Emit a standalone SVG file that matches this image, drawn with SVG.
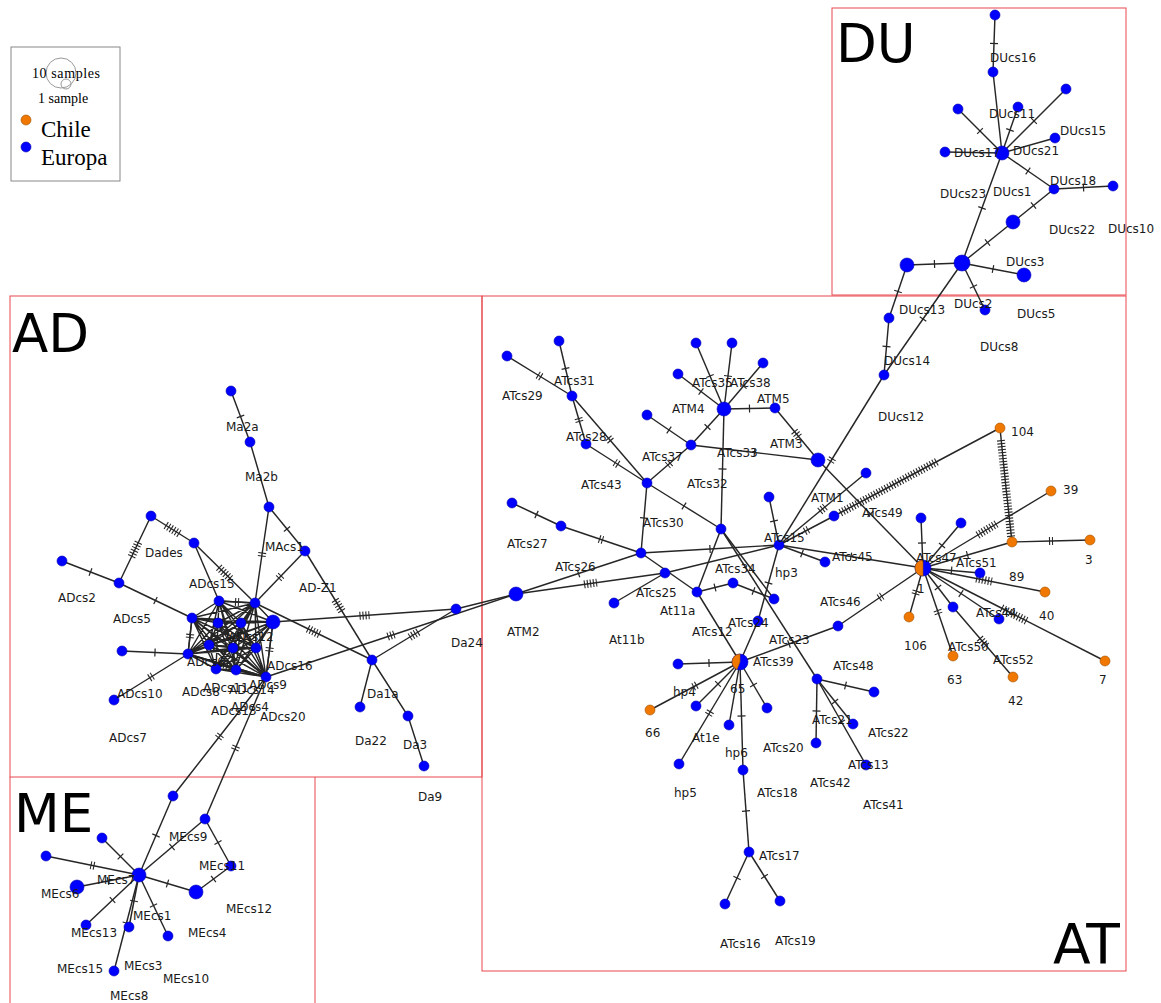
<svg xmlns="http://www.w3.org/2000/svg" width="1161" height="1003" viewBox="0 0 1161 1003">
<style>
.e{fill:none;stroke:#262626;stroke-width:1.45}
.tk{fill:none;stroke:#262626;stroke-width:8;stroke-dasharray:1.1 1.9}
.b{fill:#0000ff;stroke:#0000b0;stroke-width:.6}
.o{fill:#f07800;stroke:#a05000;stroke-width:.6}
.l{font-family:"DejaVu Sans",Verdana,sans-serif;font-size:12px;fill:#1a1a1a}
.big{font-family:"DejaVu Sans",Verdana,sans-serif;font-size:53px;fill:#000}
.box{fill:none;stroke:#e8474c;stroke-width:1}
.lg{font-family:"Liberation Serif","Times New Roman",serif;fill:#000}
</style>
<defs>
<marker id="m1" orient="auto" markerUnits="userSpaceOnUse" markerWidth="10" markerHeight="10" overflow="visible"><path d="M-0.6 0H0.6" style="fill:none;stroke-width:8;stroke:#262626"/></marker>
<marker id="m2" orient="auto" markerUnits="userSpaceOnUse" markerWidth="10" markerHeight="10" overflow="visible"><path class="tk" d="M-2 0H2"/></marker>
<marker id="m3" orient="auto" markerUnits="userSpaceOnUse" markerWidth="10" markerHeight="10" overflow="visible"><path class="tk" d="M-3.5 0H3.5"/></marker>
<marker id="m4" orient="auto" markerUnits="userSpaceOnUse" markerWidth="10" markerHeight="10" overflow="visible"><path class="tk" d="M-5 0H5"/></marker>
<marker id="m5" orient="auto" markerUnits="userSpaceOnUse" markerWidth="10" markerHeight="10" overflow="visible"><path class="tk" d="M-6.5 0H6.5"/></marker>
<marker id="m6" orient="auto" markerUnits="userSpaceOnUse" markerWidth="10" markerHeight="10" overflow="visible"><path class="tk" d="M-8 0H8"/></marker>
<marker id="m8" orient="auto" markerUnits="userSpaceOnUse" markerWidth="10" markerHeight="10" overflow="visible"><path class="tk" d="M-11 0H11"/></marker>
<marker id="m10" orient="auto" markerUnits="userSpaceOnUse" markerWidth="10" markerHeight="10" overflow="visible"><path class="tk" d="M-14 0H14"/></marker>
<marker id="m33" orient="auto" markerUnits="userSpaceOnUse" markerWidth="10" markerHeight="10" overflow="visible"><path class="tk" d="M-49 0H49"/></marker>
<marker id="m36" orient="auto" markerUnits="userSpaceOnUse" markerWidth="10" markerHeight="10" overflow="visible"><path class="tk" d="M-55 0H55"/></marker>
</defs>
<rect width="1161" height="1003" fill="#fff"/>
<g id="regions">
<rect class="box" x="832" y="8" width="294" height="287"/>
<rect class="box" x="482" y="296" width="644" height="675"/>
<rect class="box" x="10" y="296" width="472" height="481"/>
<path class="box" d="M10 777V1003M315 777V1003"/>
<text class="big" x="836" y="62">DU</text>
<text class="big" x="12" y="352">AD</text>
<text class="big" x="14" y="832">ME</text>
<text class="big" x="1053" y="963" style="font-size:55px">AT</text>
</g>
<g id="legend">
<rect x="11" y="47" width="109" height="134" fill="#fff" stroke="#888" stroke-width="1"/>
<circle cx="61" cy="73" r="15" fill="none" stroke="#999"/>
<circle cx="66" cy="84" r="5" fill="none" stroke="#999"/>
<text class="lg" x="32" y="78" font-size="14" textLength="68">10 samples</text>
<text class="lg" x="38" y="103" font-size="14">1 sample</text>
<circle class="o" cx="26" cy="120" r="5"/>
<text class="lg" x="41" y="137" font-size="23">Chile</text>
<circle class="b" cx="26" cy="147" r="5"/>
<text class="lg" x="41" y="165" font-size="23">Europa</text>
</g>
<g id="connectors">
<path class="e" d="M995 15L994 43.5L993 72" marker-mid="url(#m1)"/>
<path class="e" d="M993 72L1002 153"/>
<path class="e" d="M1002 153L980 131L958 109" marker-mid="url(#m1)"/>
<path class="e" d="M1002 153L1010 130L1018 107" marker-mid="url(#m1)"/>
<path class="e" d="M1002 153L1034 121L1066 89" marker-mid="url(#m1)"/>
<path class="e" d="M1002 153L1055 138"/>
<path class="e" d="M1002 153L945 152"/>
<path class="e" d="M1002 153L1028 171L1054 189" marker-mid="url(#m1)"/>
<path class="e" d="M1054 189L1083.5 187.5L1113 186" marker-mid="url(#m1)"/>
<path class="e" d="M1002 153L982 208L962 263" marker-mid="url(#m1)"/>
<path class="e" d="M962 263L987.5 242.5L1013 222" marker-mid="url(#m1)"/>
<path class="e" d="M1013 222L1033.5 205.5L1054 189" marker-mid="url(#m1)"/>
<path class="e" d="M962 263L934.5 264L907 265" marker-mid="url(#m1)"/>
<path class="e" d="M962 263L993 269L1024 275" marker-mid="url(#m1)"/>
<path class="e" d="M962 263L973.5 286.5L985 310" marker-mid="url(#m1)"/>
<path class="e" d="M962 263L923 319L884 375" marker-mid="url(#m1)"/>
<path class="e" d="M907 265L898 291.5L889 318" marker-mid="url(#m1)"/>
<path class="e" d="M889 318L886.5 346.5L884 375" marker-mid="url(#m1)"/>
<path class="e" d="M884 375L831.5 460L779 545" marker-mid="url(#m2)"/>
<path class="e" d="M779 545L774 521L769 497" marker-mid="url(#m1)"/>
<path class="e" d="M779 545L822.5 509L866 473" marker-mid="url(#m3)"/>
<path class="e" d="M779 545L806.5 530.5L834 516" marker-mid="url(#m2)"/>
<path class="e" d="M834 516L889 487L1000 428" marker-mid="url(#m36)"/>
<path class="e" d="M779 545L802 553.5L825 562" marker-mid="url(#m1)"/>
<path class="e" d="M779 545L851 556.5L923 568" marker-mid="url(#m1)"/>
<path class="e" d="M779 545L710 549L641 553" marker-mid="url(#m1)"/>
<path class="e" d="M779 545L665 573"/>
<path class="e" d="M779 545L768.5 583L758 621" marker-mid="url(#m1)"/>
<path class="e" d="M758 621L740 662"/>
<path class="e" d="M818 460L870.5 514L923 568" marker-mid="url(#m1)"/>
<path class="e" d="M775 408L796.5 434L818 460" marker-mid="url(#m3)"/>
<path class="e" d="M724 409L749.5 408.5L775 408" marker-mid="url(#m1)"/>
<path class="e" d="M724 409L710 376L696 343" marker-mid="url(#m1)"/>
<path class="e" d="M724 409L728 376L732 343" marker-mid="url(#m1)"/>
<path class="e" d="M724 409L743.5 386L763 363" marker-mid="url(#m1)"/>
<path class="e" d="M724 409L701 391.5L678 374" marker-mid="url(#m1)"/>
<path class="e" d="M724 409L707.5 427L691 445" marker-mid="url(#m1)"/>
<path class="e" d="M691 445L669 430L647 415" marker-mid="url(#m1)"/>
<path class="e" d="M691 445L754.5 452.5L818 460" marker-mid="url(#m1)"/>
<path class="e" d="M691 445L669 464L647 483" marker-mid="url(#m2)"/>
<path class="e" d="M724 409L722.5 469L721 529" marker-mid="url(#m1)"/>
<path class="e" d="M647 483L684 506L721 529" marker-mid="url(#m1)"/>
<path class="e" d="M647 483L644 518L641 553" marker-mid="url(#m1)"/>
<path class="e" d="M647 483L609.5 439.5L572 396" marker-mid="url(#m2)"/>
<path class="e" d="M647 483L616.5 463.5L586 444" marker-mid="url(#m2)"/>
<path class="e" d="M572 396L579 420L586 444" marker-mid="url(#m2)"/>
<path class="e" d="M572 396L565.5 368.5L559 341" marker-mid="url(#m1)"/>
<path class="e" d="M572 396L539.5 376L507 356" marker-mid="url(#m2)"/>
<path class="e" d="M512 503L536.5 514.5L561 526" marker-mid="url(#m1)"/>
<path class="e" d="M561 526L601 539.5L641 553" marker-mid="url(#m2)"/>
<path class="e" d="M516 594L578.5 573.5L641 553" marker-mid="url(#m1)"/>
<path class="e" d="M516 594L590.5 583.5L665 573" marker-mid="url(#m5)"/>
<path class="e" d="M665 573L614 603"/>
<path class="e" d="M641 553L697 592"/>
<path class="e" d="M697 592L721 529"/>
<path class="e" d="M697 592L740 662"/>
<path class="e" d="M697 592L715 587.5L733 583" marker-mid="url(#m1)"/>
<path class="e" d="M733 583L753.5 591L774 599" marker-mid="url(#m1)"/>
<path class="e" d="M721 529L774 599"/>
<path class="e" d="M721 529L817 679"/>
<path class="e" d="M740 662L709 663L678 664" marker-mid="url(#m1)"/>
<path class="e" d="M740 662L695 686L650 710" marker-mid="url(#m2)"/>
<path class="e" d="M740 662L718 684L696 706" marker-mid="url(#m1)"/>
<path class="e" d="M740 662L709.5 713L679 764" marker-mid="url(#m2)"/>
<path class="e" d="M740 662L729 725"/>
<path class="e" d="M740 662L741.5 716L743 770" marker-mid="url(#m1)"/>
<path class="e" d="M740 662L753.5 685L767 708" marker-mid="url(#m1)"/>
<path class="e" d="M740 662L789 644L838 626" marker-mid="url(#m1)"/>
<path class="e" d="M838 626L880.5 597L923 568" marker-mid="url(#m2)"/>
<path class="e" d="M743 770L746 811L749 852" marker-mid="url(#m1)"/>
<path class="e" d="M749 852L737 878L725 904" marker-mid="url(#m1)"/>
<path class="e" d="M749 852L764.5 876.5L780 901" marker-mid="url(#m1)"/>
<path class="e" d="M817 679L845.5 685.5L874 692" marker-mid="url(#m1)"/>
<path class="e" d="M817 679L816.5 711L816 743" marker-mid="url(#m1)"/>
<path class="e" d="M817 679L835 701.5L853 724" marker-mid="url(#m1)"/>
<path class="e" d="M817 679L841.5 722L866 765" marker-mid="url(#m1)"/>
<path class="e" d="M923 568L922 543L921 518" marker-mid="url(#m1)"/>
<path class="e" d="M923 568L942 545.5L961 523" marker-mid="url(#m1)"/>
<path class="e" d="M923 568L987 529.5L1051 491" marker-mid="url(#m8)"/>
<path class="e" d="M923 568L967.5 555L1012 542" marker-mid="url(#m1)"/>
<path class="e" d="M1012 542L1051 541L1090 540" marker-mid="url(#m2)"/>
<path class="e" d="M1012 542L1006 488L1000 428" marker-mid="url(#m33)"/>
<path class="e" d="M923 568L951.5 570.5L980 573" marker-mid="url(#m1)"/>
<path class="e" d="M923 568L984 580L1045 592" marker-mid="url(#m6)"/>
<path class="e" d="M923 568L938 587.5L953 607" marker-mid="url(#m1)"/>
<path class="e" d="M953 607L983 642L1013 677" marker-mid="url(#m4)"/>
<path class="e" d="M923 568L961 593.5L999 619" marker-mid="url(#m1)"/>
<path class="e" d="M923 568L1014 614.5L1105 661" marker-mid="url(#m10)"/>
<path class="e" d="M923 568L938 612L953 656" marker-mid="url(#m2)"/>
<path class="e" d="M923 568L916 592.5L909 617" marker-mid="url(#m2)"/>
<path class="e" d="M231 391L240.5 416.5L250 442" marker-mid="url(#m1)"/>
<path class="e" d="M250 442L269 507"/>
<path class="e" d="M269 507L262 554.5L255 603" marker-mid="url(#m2)"/>
<path class="e" d="M269 507L287 529L305 551" marker-mid="url(#m1)"/>
<path class="e" d="M305 551L280 577L255 603" marker-mid="url(#m2)"/>
<path class="e" d="M305 551L338.5 605.5L372 660" marker-mid="url(#m5)"/>
<path class="e" d="M372 660L360 707"/>
<path class="e" d="M372 660L408 716L424 766"/>
<path class="e" d="M255 603L313.5 631.5L372 660" marker-mid="url(#m5)"/>
<path class="e" d="M273 622L364.5 615.5L456 609" marker-mid="url(#m4)"/>
<path class="e" d="M456 609L516 594"/>
<path class="e" d="M456 609L414 634.5L372 660" marker-mid="url(#m4)"/>
<path class="e" d="M266 677L391 635.5L516 594" marker-mid="url(#m3)"/>
<path class="e" d="M62 561L90.5 572L119 583" marker-mid="url(#m1)"/>
<path class="e" d="M119 583L135 549.5L151 516" marker-mid="url(#m6)"/>
<path class="e" d="M151 516L172.5 529.5L194 543" marker-mid="url(#m6)"/>
<path class="e" d="M194 543L224.5 573L255 603" marker-mid="url(#m6)"/>
<path class="e" d="M194 543L219 601"/>
<path class="e" d="M119 583L155.5 600.5L192 618" marker-mid="url(#m1)"/>
<path class="e" d="M122 651L155 652.5L188 654" marker-mid="url(#m1)"/>
<path class="e" d="M114 700L151 677L188 654" marker-mid="url(#m2)"/>
<path class="e" d="M266 677L219.5 736.5L173 796" marker-mid="url(#m2)"/>
<path class="e" d="M266 677L235.5 748L205 819" marker-mid="url(#m2)"/>
<path class="e" d="M219 601L255 603M219 601L192 618M219 601L218 623M219 601L241 623M219 601L273 622M219 601L209 645M219 601L233 648M219 601L256 648M219 601L188 654M219 601L216 669M219 601L236 670M219 601L266 677
M255 603L192 618M255 603L218 623M255 603L241 623M255 603L273 622M255 603L209 645M255 603L233 648M255 603L256 648M255 603L188 654M255 603L216 669M255 603L236 670M255 603L266 677
M192 618L218 623M192 618L241 623M192 618L273 622M192 618L209 645M192 618L233 648M192 618L256 648M192 618L188 654M192 618L216 669M192 618L236 670M192 618L266 677
M218 623L241 623M218 623L273 622M218 623L209 645M218 623L233 648M218 623L256 648M218 623L188 654M218 623L216 669M218 623L236 670M218 623L266 677
M241 623L273 622M241 623L209 645M241 623L233 648M241 623L256 648M241 623L188 654M241 623L216 669M241 623L236 670M241 623L266 677
M273 622L209 645M273 622L233 648M273 622L256 648M273 622L188 654M273 622L216 669M273 622L236 670M273 622L266 677
M209 645L233 648M209 645L256 648M209 645L188 654M209 645L216 669M209 645L236 670M209 645L266 677
M233 648L256 648M233 648L188 654M233 648L216 669M233 648L236 670M233 648L266 677
M256 648L188 654M256 648L216 669M256 648L236 670M256 648L266 677
M188 654L216 669M188 654L236 670M188 654L266 677
M216 669L236 670M216 669L266 677M236 670L266 677"/>
<path class="e" d="M219 601L237 602L255 603" marker-mid="url(#m2)"/>
<path class="e" d="M192 618L190 636L188 654" marker-mid="url(#m2)"/>
<path class="e" d="M273 622L269.5 649.5L266 677" marker-mid="url(#m2)"/>
<path class="e" d="M188 654L227 665.5L266 677" marker-mid="url(#m3)"/>
<path class="e" d="M139 875L156 835.5L173 796" marker-mid="url(#m1)"/>
<path class="e" d="M139 875L172 847L205 819" marker-mid="url(#m1)"/>
<path class="e" d="M205 819L218 842.5L231 866" marker-mid="url(#m1)"/>
<path class="e" d="M231 866L213.5 879L196 892" marker-mid="url(#m1)"/>
<path class="e" d="M196 892L167.5 883.5L139 875" marker-mid="url(#m1)"/>
<path class="e" d="M139 875L120.5 856.5L102 838" marker-mid="url(#m1)"/>
<path class="e" d="M139 875L92.5 865.5L46 856" marker-mid="url(#m2)"/>
<path class="e" d="M139 875L108 881L77 887" marker-mid="url(#m1)"/>
<path class="e" d="M139 875L112.5 900L86 925" marker-mid="url(#m1)"/>
<path class="e" d="M139 875L134 901L129 927" marker-mid="url(#m1)"/>
<path class="e" d="M139 875L126.5 923L114 971" marker-mid="url(#m1)"/>
<path class="e" d="M139 875L153.5 905.5L168 936" marker-mid="url(#m1)"/>
</g>
<g id="nodes">
<g id="du16top"><circle class="b" cx="995" cy="15" r="5"/></g>
<g id="du16"><circle class="b" cx="993" cy="72" r="5"/></g>
<g id="du-a"><circle class="b" cx="1066" cy="89" r="5"/></g>
<g id="du-b"><circle class="b" cx="958" cy="109" r="5"/></g>
<g id="du11"><circle class="b" cx="1018" cy="107" r="5"/></g>
<g id="du15"><circle class="b" cx="1055" cy="138" r="5"/></g>
<g id="du17"><circle class="b" cx="945" cy="152" r="5"/></g>
<g id="du-hub"><circle class="b" cx="1002" cy="153" r="7"/></g>
<g id="du18"><circle class="b" cx="1054" cy="189" r="5"/></g>
<g id="du10"><circle class="b" cx="1113" cy="186" r="5"/></g>
<g id="du22"><circle class="b" cx="1013" cy="222" r="7"/></g>
<g id="du-hub2"><circle class="b" cx="962" cy="263" r="8"/></g>
<g id="du23"><circle class="b" cx="907" cy="265" r="7"/></g>
<g id="du3"><circle class="b" cx="1024" cy="275" r="7"/></g>
<g id="du13"><circle class="b" cx="889" cy="318" r="5"/></g>
<g id="du2"><circle class="b" cx="985" cy="310" r="5"/></g>
<g id="du14"><circle class="b" cx="884" cy="375" r="5"/></g>
<g id="at-a"><circle class="b" cx="559" cy="341" r="5"/></g>
<g id="at29"><circle class="b" cx="507" cy="356" r="5"/></g>
<g id="at31"><circle class="b" cx="572" cy="396" r="5"/></g>
<g id="at28"><circle class="b" cx="586" cy="444" r="5"/></g>
<g id="at43"><circle class="b" cx="647" cy="483" r="5"/></g>
<g id="at-b"><circle class="b" cx="647" cy="415" r="5"/></g>
<g id="at37"><circle class="b" cx="691" cy="445" r="5"/></g>
<g id="atm4"><circle class="b" cx="724" cy="409" r="7"/></g>
<g id="at-c"><circle class="b" cx="696" cy="343" r="5"/></g>
<g id="at-d"><circle class="b" cx="732" cy="343" r="5"/></g>
<g id="at-e"><circle class="b" cx="763" cy="363" r="5"/></g>
<g id="at-f"><circle class="b" cx="678" cy="374" r="5"/></g>
<g id="atm5"><circle class="b" cx="775" cy="408" r="5"/></g>
<g id="atm3"><circle class="b" cx="818" cy="460" r="7"/></g>
<g id="at32"><circle class="b" cx="721" cy="529" r="5"/></g>
<g id="at27a"><circle class="b" cx="512" cy="503" r="5"/></g>
<g id="at27"><circle class="b" cx="561" cy="526" r="5"/></g>
<g id="at30"><circle class="b" cx="641" cy="553" r="5"/></g>
<g id="atm2"><circle class="b" cx="516" cy="594" r="7"/></g>
<g id="at25"><circle class="b" cx="665" cy="573" r="5"/></g>
<g id="at11b"><circle class="b" cx="614" cy="603" r="5"/></g>
<g id="at11a"><circle class="b" cx="697" cy="592" r="5"/></g>
<g id="at34"><circle class="b" cx="733" cy="583" r="5"/></g>
<g id="at-g"><circle class="b" cx="774" cy="599" r="5"/></g>
<g id="at15"><circle class="b" cx="779" cy="545" r="5"/></g>
<g id="at-h"><circle class="b" cx="769" cy="497" r="5"/></g>
<g id="at-i"><circle class="b" cx="866" cy="473" r="5"/></g>
<g id="atm1"><circle class="b" cx="834" cy="516" r="5"/></g>
<g id="at45"><circle class="b" cx="825" cy="562" r="5"/></g>
<g id="at24"><circle class="b" cx="758" cy="621" r="5"/></g>
<g id="at39"><circle class="b" cx="740" cy="662" r="8"/><path class="o" d="M740 654A8 8 0 0 0 737 669.4L740 662Z"/></g>
<g id="at-j"><circle class="b" cx="678" cy="664" r="5"/></g>
<g id="n66"><circle class="o" cx="650" cy="710" r="5"/></g>
<g id="at-k"><circle class="b" cx="696" cy="706" r="5"/></g>
<g id="at1e"><circle class="b" cx="679" cy="764" r="5"/></g>
<g id="at-l"><circle class="b" cx="729" cy="725" r="5"/></g>
<g id="hp6"><circle class="b" cx="743" cy="770" r="5"/></g>
<g id="at-m"><circle class="b" cx="767" cy="708" r="5"/></g>
<g id="at46"><circle class="b" cx="838" cy="626" r="5"/></g>
<g id="at17"><circle class="b" cx="749" cy="852" r="5"/></g>
<g id="at16"><circle class="b" cx="725" cy="904" r="5"/></g>
<g id="at19"><circle class="b" cx="780" cy="901" r="5"/></g>
<g id="at48"><circle class="b" cx="817" cy="679" r="5"/></g>
<g id="at-n"><circle class="b" cx="874" cy="692" r="5"/></g>
<g id="at20"><circle class="b" cx="816" cy="743" r="5"/></g>
<g id="at21"><circle class="b" cx="853" cy="724" r="5"/></g>
<g id="at13"><circle class="b" cx="866" cy="765" r="5"/></g>
<g id="at47"><circle class="b" cx="923" cy="568" r="8"/><path class="o" d="M923 560A8 8 0 0 0 923 576Z"/></g>
<g id="at-o"><circle class="b" cx="921" cy="518" r="5"/></g>
<g id="at-p"><circle class="b" cx="961" cy="523" r="5"/></g>
<g id="n39"><circle class="o" cx="1051" cy="491" r="5"/></g>
<g id="n89"><circle class="o" cx="1012" cy="542" r="5"/></g>
<g id="n3"><circle class="o" cx="1090" cy="540" r="5"/></g>
<g id="n104"><circle class="o" cx="1000" cy="428" r="5"/></g>
<g id="at51"><circle class="b" cx="980" cy="573" r="5"/></g>
<g id="n40"><circle class="o" cx="1045" cy="592" r="5"/></g>
<g id="at-q"><circle class="b" cx="953" cy="607" r="5"/></g>
<g id="at44"><circle class="b" cx="999" cy="619" r="5"/></g>
<g id="n42"><circle class="o" cx="1013" cy="677" r="5"/></g>
<g id="n7"><circle class="o" cx="1105" cy="661" r="5"/></g>
<g id="n63"><circle class="o" cx="953" cy="656" r="5"/></g>
<g id="n106"><circle class="o" cx="909" cy="617" r="5"/></g>
<g id="ma2top"><circle class="b" cx="231" cy="391" r="5"/></g>
<g id="ma2a"><circle class="b" cx="250" cy="442" r="5"/></g>
<g id="ma2b"><circle class="b" cx="269" cy="507" r="5"/></g>
<g id="macs1"><circle class="b" cx="305" cy="551" r="5"/></g>
<g id="dades"><circle class="b" cx="151" cy="516" r="5"/></g>
<g id="ad-a"><circle class="b" cx="194" cy="543" r="5"/></g>
<g id="ad2"><circle class="b" cx="62" cy="561" r="5"/></g>
<g id="ad5"><circle class="b" cx="119" cy="583" r="5"/></g>
<g id="c1"><circle class="b" cx="219" cy="601" r="5"/></g>
<g id="c2"><circle class="b" cx="255" cy="603" r="5"/></g>
<g id="c3"><circle class="b" cx="192" cy="618" r="5"/></g>
<g id="c4"><circle class="b" cx="218" cy="623" r="5"/></g>
<g id="c5"><circle class="b" cx="241" cy="623" r="5"/></g>
<g id="c6"><circle class="b" cx="273" cy="622" r="7"/></g>
<g id="c7"><circle class="b" cx="209" cy="645" r="5"/></g>
<g id="c8"><circle class="b" cx="233" cy="648" r="5"/></g>
<g id="c9"><circle class="b" cx="256" cy="648" r="5"/></g>
<g id="c10"><circle class="b" cx="188" cy="654" r="5"/></g>
<g id="c11"><circle class="b" cx="216" cy="669" r="5"/></g>
<g id="c12"><circle class="b" cx="236" cy="670" r="5"/></g>
<g id="c13"><circle class="b" cx="266" cy="677" r="5"/></g>
<g id="ad-b"><circle class="b" cx="122" cy="651" r="5"/></g>
<g id="ad10"><circle class="b" cx="114" cy="700" r="5"/></g>
<g id="da24"><circle class="b" cx="456" cy="609" r="5"/></g>
<g id="da1a"><circle class="b" cx="372" cy="660" r="5"/></g>
<g id="da22"><circle class="b" cx="360" cy="707" r="5"/></g>
<g id="da3"><circle class="b" cx="408" cy="716" r="5"/></g>
<g id="da9"><circle class="b" cx="424" cy="766" r="5"/></g>
<g id="me-a"><circle class="b" cx="173" cy="796" r="5"/></g>
<g id="me9"><circle class="b" cx="205" cy="819" r="5"/></g>
<g id="me-b"><circle class="b" cx="102" cy="838" r="5"/></g>
<g id="me-c"><circle class="b" cx="46" cy="856" r="5"/></g>
<g id="me7"><circle class="b" cx="139" cy="875" r="7"/></g>
<g id="me6"><circle class="b" cx="77" cy="887" r="7"/></g>
<g id="me11"><circle class="b" cx="231" cy="866" r="5"/></g>
<g id="me12"><circle class="b" cx="196" cy="892" r="7"/></g>
<g id="me13"><circle class="b" cx="86" cy="925" r="5"/></g>
<g id="me1"><circle class="b" cx="129" cy="927" r="5"/></g>
<g id="me4"><circle class="b" cx="168" cy="936" r="5"/></g>
<g id="me15"><circle class="b" cx="114" cy="971" r="5"/></g>
</g>
<g id="labels" class="l">
<text x="990" y="62">DUcs16</text>
<text x="989" y="118">DUcs11</text>
<text x="1060" y="135">DUcs15</text>
<text x="954" y="157">DUcs17</text>
<text x="1013" y="155">DUcs21</text>
<text x="1050" y="185">DUcs18</text>
<text x="940" y="198">DUcs23</text>
<text x="993" y="196">DUcs1</text>
<text x="1049" y="234">DUcs22</text>
<text x="1108" y="233">DUcs10</text>
<text x="1006" y="266">DUcs3</text>
<text x="899" y="314">DUcs13</text>
<text x="954" y="308">DUcs2</text>
<text x="1017" y="318">DUcs5</text>
<text x="980" y="351">DUcs8</text>
<text x="884" y="365">DUcs14</text>
<text x="878" y="421">DUcs12</text>
<text x="502" y="400">ATcs29</text>
<text x="554" y="385">ATcs31</text>
<text x="566" y="441">ATcs28</text>
<text x="581" y="489">ATcs43</text>
<text x="642" y="461">ATcs37</text>
<text x="672" y="413">ATM4</text>
<text x="692" y="387">ATcs35</text>
<text x="730" y="387">ATcs38</text>
<text x="757" y="403">ATM5</text>
<text x="770" y="448">ATM3</text>
<text x="717" y="457">ATcs33</text>
<text x="687" y="488">ATcs32</text>
<text x="643" y="527">ATcs30</text>
<text x="507" y="548">ATcs27</text>
<text x="555" y="571">ATcs26</text>
<text x="507" y="636">ATM2</text>
<text x="636" y="597">ATcs25</text>
<text x="660" y="615">At11a</text>
<text x="609" y="644">At11b</text>
<text x="715" y="573">ATcs34</text>
<text x="775" y="577">hp3</text>
<text x="764" y="542">ATcs15</text>
<text x="728" y="627">ATcs24</text>
<text x="692" y="636">ATcs12</text>
<text x="769" y="644">ATcs23</text>
<text x="753" y="666">ATcs39</text>
<text x="673" y="696">hp4</text>
<text x="730" y="693">65</text>
<text x="645" y="737">66</text>
<text x="692" y="742">At1e</text>
<text x="725" y="757">hp6</text>
<text x="763" y="752">ATcs20</text>
<text x="674" y="797">hp5</text>
<text x="757" y="797">ATcs18</text>
<text x="810" y="787">ATcs42</text>
<text x="759" y="860">ATcs17</text>
<text x="720" y="948">ATcs16</text>
<text x="775" y="945">ATcs19</text>
<text x="811" y="502">ATM1</text>
<text x="862" y="517">ATcs49</text>
<text x="832" y="561">ATcs45</text>
<text x="916" y="562">ATcs47</text>
<text x="956" y="567">ATcs51</text>
<text x="1009" y="581">89</text>
<text x="1085" y="564">3</text>
<text x="1063" y="494">39</text>
<text x="1011" y="436">104</text>
<text x="1039" y="620">40</text>
<text x="976" y="617">ATcs44</text>
<text x="917" y="593">1</text>
<text x="904" y="650">106</text>
<text x="948" y="651">ATcs50</text>
<text x="947" y="684">63</text>
<text x="993" y="664">ATcs52</text>
<text x="1008" y="705">42</text>
<text x="1099" y="684">7</text>
<text x="820" y="606">ATcs46</text>
<text x="833" y="670">ATcs48</text>
<text x="812" y="724">ATcs21</text>
<text x="868" y="737">ATcs22</text>
<text x="848" y="769">ATcs13</text>
<text x="863" y="809">ATcs41</text>
<text x="226" y="431">Ma2a</text>
<text x="245" y="481">Ma2b</text>
<text x="265" y="551">MAcs1</text>
<text x="145" y="557">Dades</text>
<text x="189" y="588">ADcs15</text>
<text x="299" y="592">AD-Z1</text>
<text x="58" y="602">ADcs2</text>
<text x="113" y="623">ADcs5</text>
<text x="451" y="647">Da24</text>
<text x="228" y="641">ADcs12</text>
<text x="267" y="670">ADcs16</text>
<text x="187" y="666">ADcs6</text>
<text x="182" y="696">ADcs8</text>
<text x="203" y="692">ADcs11</text>
<text x="229" y="694">ADcs14</text>
<text x="249" y="689">ADcs9</text>
<text x="117" y="698">ADcs10</text>
<text x="109" y="742">ADcs7</text>
<text x="211" y="715">ADcs13</text>
<text x="231" y="711">ADcs4</text>
<text x="260" y="721">ADcs20</text>
<text x="367" y="698">Da1a</text>
<text x="355" y="745">Da22</text>
<text x="403" y="749">Da3</text>
<text x="418" y="801">Da9</text>
<text x="169" y="841">MEcs9</text>
<text x="199" y="870">MEcs11</text>
<text x="97" y="884">MEcs7</text>
<text x="41" y="898">MEcs6</text>
<text x="226" y="913">MEcs12</text>
<text x="133" y="920">MEcs1</text>
<text x="188" y="937">MEcs4</text>
<text x="71" y="937">MEcs13</text>
<text x="57" y="973">MEcs15</text>
<text x="124" y="970">MEcs3</text>
<text x="163" y="983">MEcs10</text>
<text x="110" y="1000">MEcs8</text>
</g>
</svg>
